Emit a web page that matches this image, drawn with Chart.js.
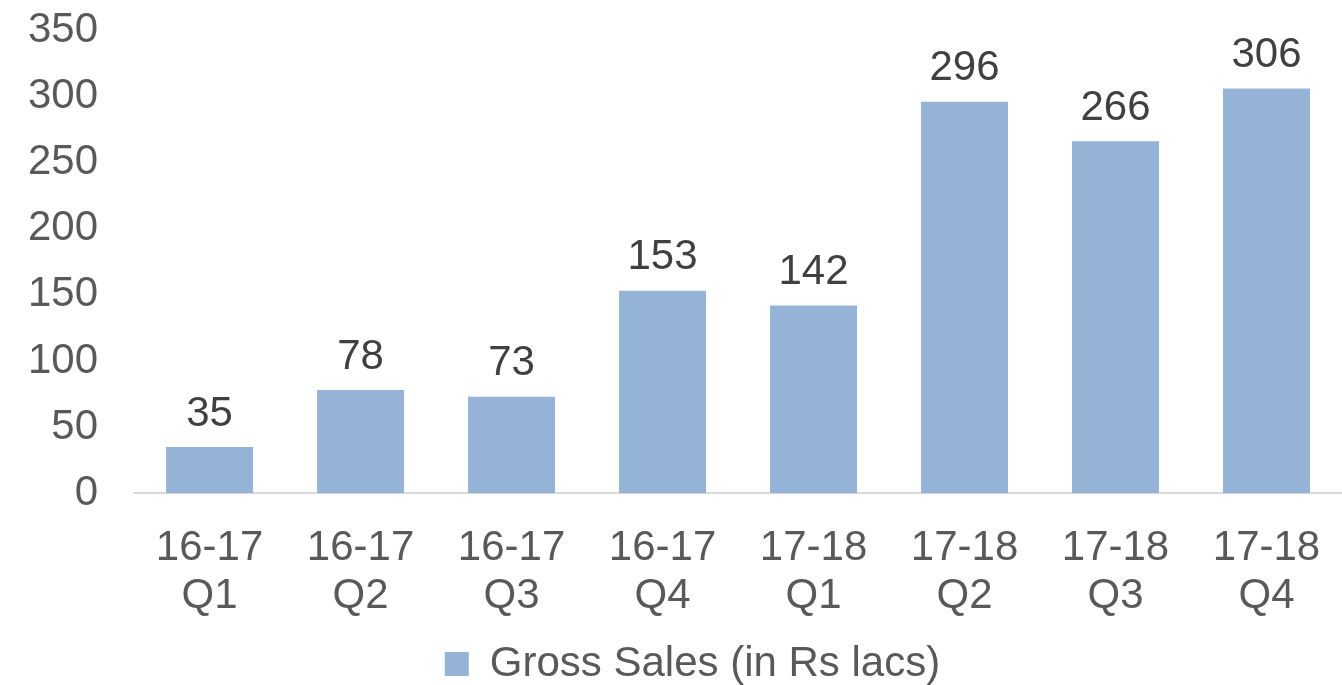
<!DOCTYPE html>
<html>
<head>
<meta charset="utf-8">
<script src="https://cdn.jsdelivr.net/npm/chart.js@4"></script>
<style>
  html, body { margin: 0; padding: 0; background: #fff; }
  canvas { display: block; }
</style>
</head>
<body>
<canvas id="salesChart" width="1342" height="685"></canvas>
<script>
// データ
const categories = [
    ['16-17', 'Q1'], ['16-17', 'Q2'], ['16-17', 'Q3'], ['16-17', 'Q4'],
    ['17-18', 'Q1'], ['17-18', 'Q2'], ['17-18', 'Q3'], ['17-18', 'Q4']
];
const grossSales = [35, 78, 73, 153, 142, 296, 266, 306];
const seriesLabel = 'Gross Sales (in Rs lacs)';
const yMin = 0;
const yMax = 350;
const yStep = 50;

const FONT = '"Liberation Sans", Arial, sans-serif';

// 棒の上に値を表示
const valueLabels = {
    id: 'valueLabels',
    afterDatasetsDraw(chart) {
        const ctx = chart.ctx;
        const meta = chart.getDatasetMeta(0);
        ctx.save();
        ctx.font = `42px ${FONT}`;
        ctx.fillStyle = '#404040';
        ctx.textAlign = 'center';
        ctx.textBaseline = 'bottom';
        meta.data.forEach((bar, i) => {
            ctx.fillText(String(grossSales[i]), bar.x, bar.y - 12);
        });
        ctx.restore();
    }
};

const ctx = document.getElementById('salesChart').getContext('2d');
new Chart(ctx, {
    type: 'bar',
    data: {
        labels: categories,
        datasets: [{
            label: seriesLabel,
            data: grossSales,
            backgroundColor: '#95b3d7',
            borderWidth: 0,
            categoryPercentage: 1,
            barPercentage: 0.576
        }]
    },
    options: {
        responsive: false,
        animation: false,
        layout: { padding: { top: 0, right: -20, left: 23, bottom: -10 } },
        plugins: {
            legend: {
                position: 'bottom',
                labels: {
                    font: { family: FONT, size: 42 },
                    color: '#595959',
                    boxWidth: 24,
                    boxHeight: 24,
                    padding: 0
                }
            },
            tooltip: { enabled: false }
        },
        scales: {
            x: {
                grid: { display: false, drawTicks: false },
                border: { color: '#d9d9d9', width: 2 },
                ticks: {
                    font: { family: FONT, size: 42, lineHeight: 1.14 },
                    color: '#595959',
                    padding: 31,
                    maxRotation: 0
                },
                afterFit(scale) {
                    scale.height -= 8;
                    // 右端は画面いっぱいまで使う
                    scale.paddingRight = 0;
                }
            },
            y: {
                min: yMin,
                max: yMax,
                // 目盛り線は描かず、ラベルとの間隔だけ確保
                grid: { display: false, drawTicks: true, tickLength: 31 },
                border: { display: false },
                ticks: {
                    stepSize: yStep,
                    font: { family: FONT, size: 42 },
                    color: '#595959',
                    padding: 5
                }
            }
        }
    },
    plugins: [valueLabels]
});
</script>
</body>
</html>
